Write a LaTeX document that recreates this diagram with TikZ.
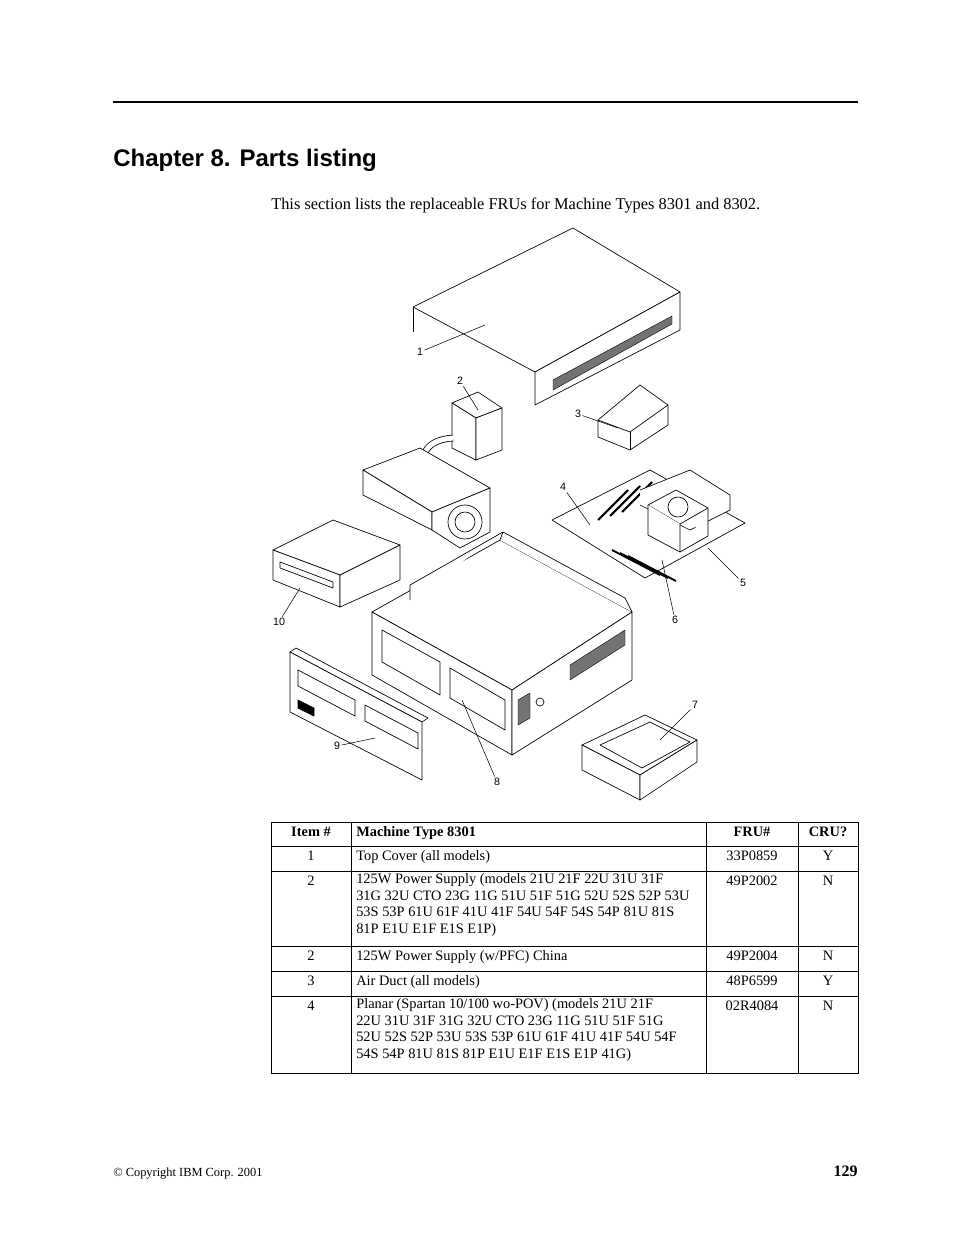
\documentclass[tikz,border=0pt]{standalone}
\usepackage{fontspec}
\setmainfont{Liberation Serif}
\setsansfont{Liberation Sans}
\usetikzlibrary{positioning}
\tikzset{
  part/.style={draw=black,line width=0.5pt,fill=white,line join=round},
  vent/.style={draw=black,line width=0.3pt,fill=black!55},
  callout/.style={font=\sffamily\fontsize{8pt}{9pt}\selectfont,inner sep=1pt},
  leader/.style={draw=black,line width=0.4pt},
  cell/.style={anchor=north west,inner sep=0pt,align=left,execute at begin node=\strut,font=\fontsize{10.8pt}{12.6pt}\selectfont},
  cellc/.style={anchor=north,inner sep=0pt,align=center,execute at begin node=\strut,font=\fontsize{10.8pt}{12.6pt}\selectfont}
}
\begin{document}
\begin{tikzpicture}[x=0.75pt,y=-0.75pt]
\useasboundingbox (0,0) rectangle (954,1235);
% heading
\draw[line width=2.2pt] (113,102) -- (858,102);
\node[anchor=base west,inner sep=0pt,font=\sffamily\bfseries\fontsize{18pt}{20pt}\selectfont] (title) at (113,166) {Chapter 8. Parts listing};
\node[anchor=base west,inner sep=0pt,font=\fontsize{12.3pt}{14pt}\selectfont] (intro) at (271,209) {This section lists the replaceable FRUs for Machine Types 8301 and 8302.};

% 1 top cover
\draw[part] (413,307) -- (573,228) -- (680,292) -- (535,372) -- cycle;
\draw[part] (535,372) -- (680,292) -- (680,330) -- (535,405) -- cycle;
\draw[part] (413,307) -- (413,332);
\draw[vent] (553,380) -- (672,316) -- (672,324) -- (553,390) -- cycle;
\coordinate (p1) at (485,325);
\node[callout] (c1) at (420,352) {1};
\draw[leader] (c1) -- (p1);

% 2 power supply
\draw[part] (452,403) -- (478,392) -- (502,408) -- (476,418) -- cycle;
\draw[part] (452,403) -- (476,418) -- (476,460) -- (452,448) -- cycle;
\draw[part] (476,418) -- (502,408) -- (502,450) -- (476,460) -- cycle;
\draw[part,fill=none,line width=5pt,draw=black] (453,438) .. controls (425,440) and (420,455) .. (422,478);
\draw[part,fill=none,line width=3.8pt,draw=white] (453,438) .. controls (425,440) and (420,455) .. (422,478);
\draw[part] (363,470) -- (420,448) -- (490,488) -- (432,512) -- cycle;
\draw[part] (363,470) -- (432,512) -- (432,530) -- (363,495) -- cycle;
\draw[part] (432,512) -- (490,488) -- (490,532) -- (460,548) -- (432,530) -- cycle;
\draw[part] (465,522) circle (17);
\draw[part] (465,522) circle (10);
\coordinate (p2) at (478,410);
\node[callout] (c2) at (460,381) {2};
\draw[leader] (c2) -- (p2);

% 3 air duct
\draw[part] (598,420) -- (640,385) -- (668,405) -- (668,425) -- (630,450) -- (598,437) -- cycle;
\draw[part] (598,420) -- (630,432) -- (668,405);
\draw[part] (630,432) -- (630,450);
\coordinate (p3) at (618,428);
\node[callout] (c3) at (578,414) {3};
\draw[leader] (c3) -- (p3);

% 4 planar, 5 heatsink, 6 memory
\draw[part] (552,520) -- (650,470) -- (745,523) -- (645,578) -- cycle;
\foreach \i in {0,1,2}
  \draw[part,line width=1.6pt] (598+\i*12,520-\i*4) -- (628+\i*12,490-\i*4);
\draw[part] (640,490) -- (690,470) -- (730,495) -- (730,510) -- (690,530) -- (640,505);
\draw[part] (648,505) -- (676,490) -- (708,508) -- (680,524) -- cycle;
\draw[part] (648,505) -- (648,535) -- (680,552) -- (680,524);
\draw[part] (680,552) -- (708,536) -- (708,508);
\draw[part] (678,507) circle (10);
\foreach \i in {0,1,2}
  \draw[part,line width=1.4pt] (612+\i*8,550+\i*3) -- (660+\i*8,575+\i*3);
\coordinate (p4) at (590,525);
\coordinate (p5) at (708,548);
\coordinate (p6) at (662,560);
\node[callout] (c4) at (563,487) {4};
\node[callout] (c5) at (743,583) {5};
\node[callout] (c6) at (675,620) {6};
\draw[leader] (c4) -- (p4);
\draw[leader] (c5) -- (p5);
\draw[leader] (c6) -- (p6);

% 10 cd drive
\draw[part] (273,550) -- (333,520) -- (400,545) -- (340,575) -- cycle;
\draw[part] (273,550) -- (340,575) -- (340,607) -- (273,580) -- cycle;
\draw[part] (340,575) -- (400,545) -- (400,580) -- (340,607) -- cycle;
\draw[part] (280,562) -- (333,582) -- (333,588) -- (280,568) -- cycle;
\coordinate (p10) at (300,588);
\node[callout] (c10) at (279,622) {10};
\draw[leader] (c10) -- (p10);

% 8 chassis
\draw[part] (372,612) -- (500,540) -- (632,612) -- (512,690) -- cycle;
\draw[part] (500,540) -- (503,532) -- (625,598) -- (632,612);
\draw[part] (372,612) -- (512,690) -- (512,755) -- (372,675) -- cycle;
\draw[part] (512,690) -- (632,612) -- (632,680) -- (512,755) -- cycle;
\draw[part] (382,630) -- (440,662) -- (440,695) -- (382,662) -- cycle;
\draw[part] (450,668) -- (505,700) -- (505,730) -- (450,698) -- cycle;
\draw[part] (410,600) -- (410,585) -- (503,532);
\draw[vent] (518,700) -- (530,693) -- (530,718) -- (518,725) -- cycle;
\draw[vent] (570,665) -- (625,630) -- (625,645) -- (570,680) -- cycle;
\draw[part] (540,702) circle (4);
\coordinate (p8) at (462,700);
\node[callout] (c8) at (497,782) {8};
\draw[leader] (c8) -- (p8);

% 9 bezel
\draw[part] (290,652) -- (296,648) -- (428,718) -- (422,722) -- cycle;
\draw[part] (290,652) -- (422,722) -- (422,780) -- (290,712) -- cycle;
\draw[part] (298,670) -- (355,700) -- (355,716) -- (298,686) -- cycle;
\draw[part] (365,705) -- (418,733) -- (418,749) -- (365,721) -- cycle;
\draw[part,fill=black] (298,700) -- (314,708) -- (314,716) -- (298,708) -- cycle;
\coordinate (p9) at (375,738);
\node[callout] (c9) at (337,746) {9};
\draw[leader] (c9) -- (p9);

% 7 drawer
\draw[part] (582,745) -- (645,715) -- (697,740) -- (640,775) -- cycle;
\draw[part] (582,745) -- (640,775) -- (640,800) -- (582,770) -- cycle;
\draw[part] (640,775) -- (697,740) -- (697,762) -- (640,800) -- cycle;
\draw[part] (600,745) -- (650,722) -- (690,742) -- (642,768) -- cycle;
\coordinate (p7) at (660,740);
\node[callout] (c7) at (695,705) {7};
\draw[leader] (c7) -- (p7);

% table
\draw[line width=0.5pt] (271,822) rectangle (858,1073);
\foreach \y in {846,871,946,971,996}
  \draw[line width=0.5pt] (271,\y) -- (858,\y);
\foreach \x in {351,706,798}
  \draw[line width=0.5pt] (\x,822) -- (\x,1073);
\node[cellc,font=\bfseries\fontsize{10.8pt}{12.6pt}\selectfont] (h1) at (311,824) {Item \#};
\node[cell,font=\bfseries\fontsize{10.8pt}{12.6pt}\selectfont] (h2) at (356,824) {Machine Type 8301};
\node[cellc,font=\bfseries\fontsize{10.8pt}{12.6pt}\selectfont] (h3) at (752,824) {FRU\#};
\node[cellc,font=\bfseries\fontsize{10.8pt}{12.6pt}\selectfont] (h4) at (828,824) {CRU?};
\foreach \y/\it/\desc/\fru/\cru in {
  848/1/{Top Cover (all models)}/33P0859/Y,
  873/2/{125W Power Supply (models 21U 21F 22U 31U 31F\\31G 32U CTO 23G 11G 51U 51F 51G 52U 52S 52P 53U\\53S 53P 61U 61F 41U 41F 54U 54F 54S 54P 81U 81S\\81P E1U E1F E1S E1P)}/49P2002/N,
  948/2/{125W Power Supply (w/PFC) China}/49P2004/N,
  973/3/{Air Duct (all models)}/48P6599/Y,
  998/4/{Planar (Spartan 10/100 wo-POV) (models 21U 21F\\22U 31U 31F 31G 32U CTO 23G 11G 51U 51F 51G\\52U 52S 52P 53U 53S 53P 61U 61F 41U 41F 54U 54F\\54S 54P 81U 81S 81P E1U E1F E1S E1P 41G)}/02R4084/N}
{
  \node[cellc] at (311,\y) {\it};
  \node[cell] at (356,\y) {\desc};
  \node[cellc] at (752,\y) {\fru};
  \node[cellc] at (828,\y) {\cru};
}

% footer
\node[anchor=base west,inner sep=0pt,font=\fontsize{9.3pt}{11pt}\selectfont] (copy) at (113,1176) {\textcopyright{} Copyright IBM Corp. 2001};
\node[anchor=base east,inner sep=0pt,font=\bfseries\fontsize{12pt}{14pt}\selectfont] (page) at (858,1176) {129};
\end{tikzpicture}
\end{document}
